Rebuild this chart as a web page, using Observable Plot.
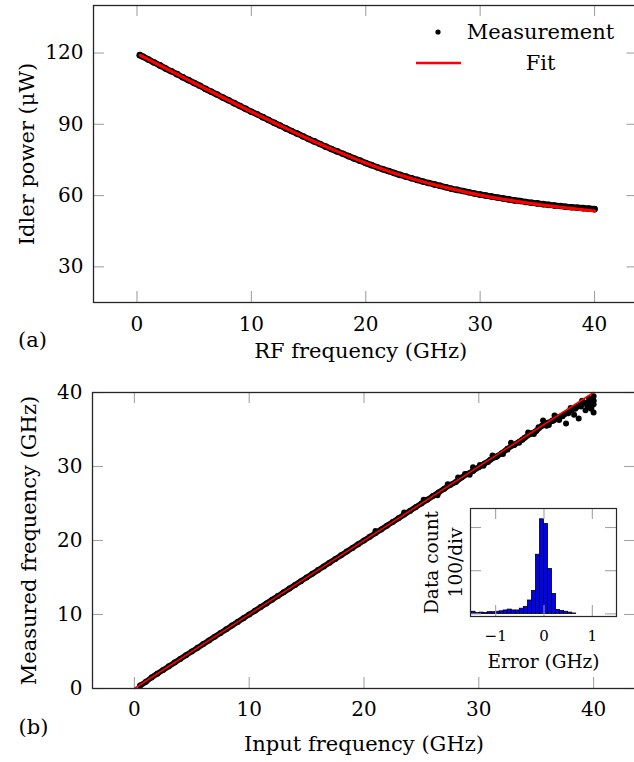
<!DOCTYPE html>
<html><head><meta charset="utf-8">
<script src="https://cdn.jsdelivr.net/npm/d3@7"></script>
<script src="https://cdn.jsdelivr.net/npm/@observablehq/plot@0.6"></script>
<style>
html,body{margin:0;padding:0;background:#fff;overflow:hidden;}
#root{position:relative;width:634px;height:762px;overflow:hidden;}
#root svg{position:absolute;}
</style></head><body><div id="root"></div>
<script>
// ---------- Panel (a): idler power vs RF frequency ----------
const rfFreq = [0.25,0.5,1,1.5,2,2.5,3,3.5,4,4.5,5,5.5,6,6.5,7,7.5,8,8.5,9,9.5,10,
  10.5,11,11.5,12,12.5,13,13.5,14,14.5,15,15.5,16,16.5,17,17.5,18,18.5,19,19.5,20,
  20.5,21,21.5,22,22.5,23,23.5,24,24.5,25,25.5,26,26.5,27,27.5,28,28.5,29,29.5,30,
  30.5,31,31.5,32,32.5,33,33.5,34,34.5,35,35.5,36,36.5,37,37.5,38,38.5,39,39.5,40];
const idlerPower = [119.1,118.5,117.3,116.0,114.8,113.5,112.3,111.1,109.8,108.6,107.4,106.2,104.9,103.7,102.5,101.3,100.1,98.9,97.7,96.5,95.3,
  94.2,93.0,91.8,90.6,89.5,88.3,87.2,86.1,85.0,83.8,82.8,81.7,80.6,79.6,78.6,77.6,76.6,75.6,74.7,73.7,
  72.8,71.9,71.1,70.3,69.5,68.7,68.0,67.3,66.6,65.9,65.3,64.7,64.1,63.5,62.9,62.4,61.9,61.4,60.9,60.4,
  60.0,59.6,59.2,58.8,58.4,58.0,57.7,57.3,57.0,56.7,56.4,56.1,55.8,55.6,55.3,55.1,54.9,54.7,54.5,54.3];
const fitFreqA = [0.3,2.5,5,7.5,10,12.5,15,17.5,20,22.5,25,27.5,30,32.5,35,37.5,40];
const fitPowerA = [119.0,113.6,107.4,101.3,95.3,89.5,83.8,78.6,73.7,69.4,65.8,62.8,60.2,58.1,56.3,54.8,53.5];
const xTicksA = [0,10,20,30,40];
const yTicksA = [30,60,90,120];

// ---------- Panel (b): measured vs input frequency ----------
const inputFreq = [0.5,1,1.5,2,2.5,3,3.5,4,4.5,5,5.5,6,6.5,7,7.5,8,8.5,9,9.5,10,
  10.5,11,11.5,12,12.5,13,13.5,14,14.5,15,15.5,16,16.5,17,17.5,18,18.5,19,19.5,20,
  20.5,21,21.5,22,22.5,23,23.5,24,24.5,25,25.5,26,26.5,27,27.5,28,28.5,29,29.5,30,
  30.5,31,31.5,32,32.5,33,33.5,34,34.5,35,35.5,36,36.5,37,37.5,38,38.5,39,39.5,40];
const measuredFreq = [0.4,0.9,1.5,2.0,2.5,3.0,3.5,4.0,4.5,5.0,5.5,6.0,6.5,7.0,7.5,8.0,8.5,9.0,9.5,10.0,
  10.5,11.0,11.5,12.0,12.5,13.0,13.5,14.0,14.5,15.0,15.5,16.0,16.5,17.0,17.5,18.0,18.5,19.0,19.5,20.0,
  20.5,21.0,21.5,22.0,22.5,23.0,23.5,24.0,24.5,25.0,25.5,26.0,26.5,27.0,27.5,27.9,28.5,29.0,29.4,29.9,
  30.4,30.9,31.3,31.8,32.4,32.9,33.3,33.9,34.4,34.8,35.5,35.9,36.2,36.7,37.1,37.6,38.0,38.4,38.6,38.9];
const scatterIn  = [21.0,23.5,25.2,26.4,27.3,28.2,29.5,30.4,31.2,32.1,32.8,33.5,34.3,34.8,35.6,36.1,36.6,37.0,37.6,38.0,38.3,38.7,39.0,39.3,39.6,39.8,40.0,40.0,39.9,39.5,
  28.8,29.2,30.1,30.8,31.6,32.5,33.1,33.8,34.6,35.2,35.9,36.4,36.9,37.3,37.8,38.4,38.9,39.2,39.7,40.0];
const scatterOut = [21.3,23.8,25.5,26.1,27.6,28.5,29.9,30.1,31.5,31.7,33.2,33.2,34.6,34.4,36.2,35.6,36.9,36.3,35.8,37.9,37.0,36.5,38.9,37.6,39.2,37.8,39.5,37.3,38.3,38.0,
  29.0,28.9,30.2,30.6,31.4,32.3,32.9,33.6,34.5,35.3,35.5,36.2,36.5,36.8,37.2,37.8,38.1,38.6,38.5,38.4];
const fitIn = [0,40];
const fitOut = [0,40];
const xTicksB = [0,10,20,30,40];
const yTicksB = [0,10,20,30,40];

// ---------- Inset: error histogram ----------
const binStart = -1.5, binWidth = 1/12;
const errorCounts = [5,2,3,2,4,4,5,6,8,10,8,8,12,16,31,53,137,219,208,104,46,9,7,5,3,1,0,0,0,0,0,0,0,0,0,0];
const xTicksI = [-1,0,1];
const yTicksI = [0,100,200];

const FONT = "DejaVu Serif";
const TICK = "#a3a3a3";
const FRAME = "#262626";
const root = document.getElementById("root");

function innerTicks(xt, yt, fw, fh, len) {
  return [
    Plot.tickX(xt, {x: d => d, insetTop: fh - len, stroke: TICK, strokeWidth: 1.1}),
    Plot.tickX(xt, {x: d => d, insetBottom: fh - len, stroke: TICK, strokeWidth: 1.1}),
    Plot.tickY(yt, {y: d => d, insetRight: fw - len, stroke: TICK, strokeWidth: 1.1}),
    Plot.tickY(yt, {y: d => d, insetLeft: fw - len, stroke: TICK, strokeWidth: 1.1})
  ];
}
function place(svg, left, top) {
  svg.style.left = left + "px";
  svg.style.top = top + "px";
  svg.style.maxWidth = "none";
  svg.style.background = "transparent";
  svg.style.overflow = "visible";
  root.appendChild(svg);
}

// Panel (a)
const dataA = rfFreq.map((f, i) => ({f, p: idlerPower[i]}));
const fitA = fitFreqA.map((f, i) => ({f, p: fitPowerA[i]}));
const wA = 640, hA = 372, mlA = 93, mrA = 2.5, mtA = 5, mbA = 70;
const fwA = wA - mlA - mrA, fhA = hA - mtA - mbA;
const svgA = Plot.plot({
  width: wA, height: hA, marginLeft: mlA, marginRight: mrA, marginTop: mtA, marginBottom: mbA,
  style: {fontFamily: FONT, background: "transparent", overflow: "visible"},
  x: {domain: [-3.8, 43.8], axis: null},
  y: {domain: [15, 140], axis: null},
  marks: [
    ...innerTicks(xTicksA, yTicksA, fwA, fhA, 11),
    Plot.line(dataA, {x: "f", y: "p", stroke: "black", strokeWidth: 6.2, strokeLinecap: "round", curve: "natural"}),
    Plot.dot(dataA, {x: "f", y: "p", r: 3.3, fill: "black"}),
    Plot.line(fitA, {x: "f", y: "p", stroke: "red", strokeWidth: 3.2, curve: "natural"}),
    Plot.frame({stroke: FRAME, strokeWidth: 1.3}),
    Plot.text(xTicksA, {x: d => d, frameAnchor: "bottom", dy: 28, lineAnchor: "bottom", fontSize: 20, fontFamily: FONT}),
    Plot.text(yTicksA, {y: d => d, frameAnchor: "left", dx: -10, textAnchor: "end", lineAnchor: "middle", fontSize: 20, fontFamily: FONT}),
    Plot.text(["Idler power (μW)"], {frameAnchor: "left", dx: -66, rotate: -90, textAnchor: "middle", lineAnchor: "middle", fontSize: 21, fontFamily: FONT}),
    Plot.text(["RF frequency (GHz)"], {frameAnchor: "bottom", dx: -5, dy: 55, lineAnchor: "bottom", fontSize: 21, fontFamily: FONT}),
    Plot.text(["(a)"], {frameAnchor: "bottom-left", dx: -61, dy: 44, textAnchor: "middle", lineAnchor: "bottom", fontSize: 21, fontFamily: FONT})
  ]
});
place(svgA, 0, 0);
// legend
const lg = d3.select(svgA).append("g").attr("font-family", FONT).attr("font-size", 21);
lg.append("circle").attr("cx", 438).attr("cy", 32).attr("r", 2.6).attr("fill", "black");
lg.append("text").attr("x", 540.5).attr("y", 39).attr("text-anchor", "middle").text("Measurement");
lg.append("line").attr("x1", 416).attr("x2", 461).attr("y1", 63).attr("y2", 63).attr("stroke", "red").attr("stroke-width", 2.6);
lg.append("text").attr("x", 540.5).attr("y", 70).attr("text-anchor", "middle").text("Fit");

// Panel (b)
const mainB = inputFreq.map((f, i) => ({f, m: measuredFreq[i]}));
const dataB = mainB.concat(scatterIn.map((f, i) => ({f, m: scatterOut[i]})));
const fitB = fitIn.map((f, i) => ({f, m: fitOut[i]}));
const wB = 640, hB = 390, mlB = 92, mrB = 5, mtB = 20, mbB = 74;
const fwB = wB - mlB - mrB, fhB = hB - mtB - mbB;
const svgB = Plot.plot({
  width: wB, height: hB, marginLeft: mlB, marginRight: mrB, marginTop: mtB, marginBottom: mbB,
  style: {fontFamily: FONT, background: "transparent", overflow: "visible"},
  x: {domain: [-3.65, 43.65], axis: null},
  y: {domain: [0, 40], axis: null},
  marks: [
    ...innerTicks(xTicksB, yTicksB, fwB, fhB, 11),
    Plot.line(mainB, {x: "f", y: "m", stroke: "black", strokeWidth: 5.6, strokeLinecap: "round", strokeLinejoin: "round"}),
    Plot.dot(dataB, {x: "f", y: "m", r: 3, fill: "black"}),
    Plot.line(fitB, {x: "f", y: "m", stroke: "red", strokeWidth: 1.6}),
    Plot.frame({stroke: FRAME, strokeWidth: 1.3}),
    Plot.text(xTicksB, {x: d => d, frameAnchor: "bottom", dy: 27, lineAnchor: "bottom", fontSize: 20, fontFamily: FONT}),
    Plot.text(yTicksB, {y: d => d, frameAnchor: "left", dx: -10, textAnchor: "end", lineAnchor: "middle", fontSize: 20, fontFamily: FONT}),
    Plot.text(["Measured frequency (GHz)"], {frameAnchor: "left", dx: -63.5, rotate: -90, textAnchor: "middle", lineAnchor: "middle", fontSize: 21, fontFamily: FONT}),
    Plot.text(["Input frequency (GHz)"], {frameAnchor: "bottom", dy: 62, lineAnchor: "bottom", fontSize: 21, fontFamily: FONT}),
    Plot.text(["(b)"], {frameAnchor: "bottom-left", dx: -59, dy: 45, textAnchor: "middle", lineAnchor: "bottom", fontSize: 21, fontFamily: FONT})
  ]
});
place(svgB, 0, 372);

// Inset
const hist = errorCounts.map((c, k) => ({x0: binStart + k * binWidth, x1: binStart + (k + 1) * binWidth, c}));
const wI = 230, hI = 190, mlI = 70, mrI = 14, mtI = 18, mbI = 64;
const fwI = wI - mlI - mrI, fhI = hI - mtI - mbI;
const svgI = Plot.plot({
  width: wI, height: hI, marginLeft: mlI, marginRight: mrI, marginTop: mtI, marginBottom: mbI,
  style: {fontFamily: FONT, background: "transparent", overflow: "visible"},
  x: {domain: [-1.52, 1.5], axis: null},
  y: {domain: [-6, 244], axis: null},
  marks: [
    Plot.rect(hist, {x1: "x0", x2: "x1", y1: 0, y2: "c", fill: "#0000ff", stroke: "black", strokeWidth: 0.8}),
    ...innerTicks(xTicksI, yTicksI, fwI, fhI, 11),
    Plot.frame({stroke: FRAME, strokeWidth: 1.2}),
    Plot.text(xTicksI, {x: d => d, text: d => d < 0 ? "−" + Math.abs(d) : String(d), frameAnchor: "bottom", dy: 24, lineAnchor: "bottom", fontSize: 15, fontFamily: FONT}),
    Plot.text(["Error (GHz)"], {frameAnchor: "bottom", dy: 51, lineAnchor: "bottom", fontSize: 18.5, fontFamily: FONT}),
    Plot.text(["Data count"], {frameAnchor: "left", dx: -38.3, rotate: -90, textAnchor: "middle", lineAnchor: "middle", fontSize: 18.5, fontFamily: FONT}),
    Plot.text(["100/div"], {frameAnchor: "left", dx: -14, rotate: -90, textAnchor: "middle", lineAnchor: "middle", fontSize: 18.5, fontFamily: FONT})
  ]
});
place(svgI, 400, 490);
</script></body></html>
